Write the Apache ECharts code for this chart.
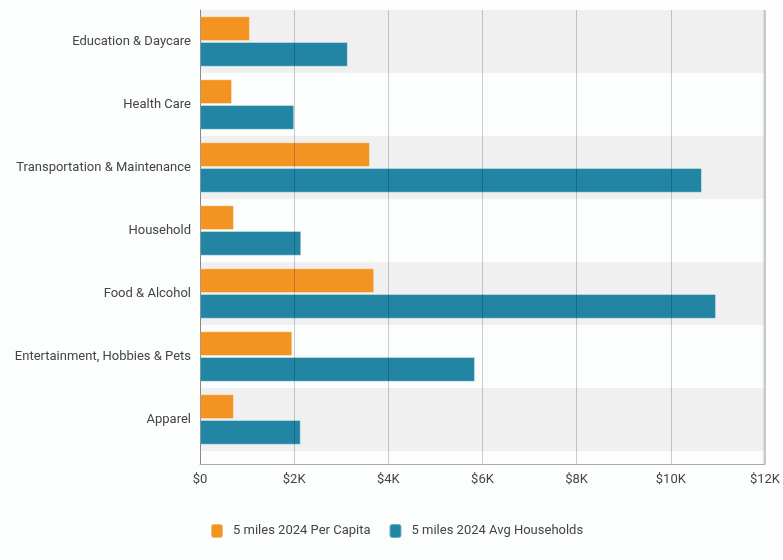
<!DOCTYPE html>
<html><head><meta charset="utf-8">
<script src="https://cdn.jsdelivr.net/npm/echarts@6/dist/echarts.min.js"></script>
<style>html,body{margin:0;padding:0;background:#fcfefe}#c{width:783px;height:560px}</style>
</head><body><div id="c"></div>
<script>
const categories = ["Education & Daycare","Health Care","Transportation & Maintenance","Household","Food & Alcohol","Entertainment, Hobbies & Pets","Apparel"];
const perCapita = [1060, 680, 3610, 720, 3700, 1960, 720];
const avgHouseholds = [3140, 2000, 10660, 2150, 10960, 5840, 2140];
const seriesNames = ["5 miles 2024 Per Capita", "5 miles 2024 Avg Households"];
const xTicks = [0, 2000, 4000, 6000, 8000, 10000, 12000];

const chart = echarts.init(document.getElementById('c'));
const fontFam = 'Roboto, "Noto Sans", sans-serif';
chart.setOption({
  backgroundColor: '#fcfefe',
  animation: false,
  legend: {
    data: seriesNames, bottom: 16, left: 205, itemWidth: 12, itemHeight: 14, itemGap: 18,
    textStyle: { fontFamily: fontFam, fontSize: 13, color: '#444', padding: [0, 0, 0, 5] },
    icon: 'roundRect'
  },
  grid: [
    { left: 200, right: 18, top: 10, height: 441, containLabel: false },
    { left: 200, right: 18, top: 10, bottom: 96, containLabel: false }
  ],
  xAxis: [
    { gridIndex: 0, type: 'value', min: 0, max: 12000, interval: 2000, show: false },
    { gridIndex: 1, type: 'value', min: 0, max: 12000, interval: 2000, z: 5,
      axisLine: { show: true, lineStyle: { color: '#aaa', width: 1 } },
      axisTick: { show: false },
      splitLine: { show: true, lineStyle: { color: 'rgba(0,0,0,0.2)', width: 1 } },
      axisLabel: { fontFamily: fontFam, fontSize: 13, color: '#444', margin: 9,
        formatter: v => xTicks.includes(v) ? '$' + (v === 0 ? '0' : (v / 1000) + 'K') : '' } }
  ],
  yAxis: [
    { gridIndex: 0, type: 'category', data: categories, inverse: true,
      axisLine: { show: false }, axisTick: { show: false },
      axisLabel: { fontFamily: fontFam, fontSize: 13, color: '#444', margin: 9 },
      splitArea: { show: true, areaStyle: { color: ['#f0f0f0', 'rgba(0,0,0,0)'] } } },
    { gridIndex: 1, type: 'value', show: true, min: 0, max: 1,
      axisLine: { show: true, lineStyle: { color: '#aaa' } }, axisTick: { show: false },
      axisLabel: { show: false }, splitLine: { show: false } }
  ],
  series: [
    { name: seriesNames[0], type: 'bar', xAxisIndex: 0, yAxisIndex: 0, data: perCapita,
      barGap: '4%', barCategoryGap: '20%',
      itemStyle: { color: '#f39322', borderColor: 'rgba(255,255,255,0.35)', borderWidth: 1 } },
    { name: seriesNames[1], type: 'bar', xAxisIndex: 0, yAxisIndex: 0, data: avgHouseholds,
      barGap: '4%', barCategoryGap: '20%',
      itemStyle: { color: '#2185a3', borderColor: 'rgba(255,255,255,0.35)', borderWidth: 1 } }
  ],
  graphic: [
    { type: 'line', shape: { x1: 764.5, y1: 10, x2: 764.5, y2: 464 }, style: { stroke: '#c8c8c8', lineWidth: 2 }, z: 10 }
  ]
});
</script></body></html>
